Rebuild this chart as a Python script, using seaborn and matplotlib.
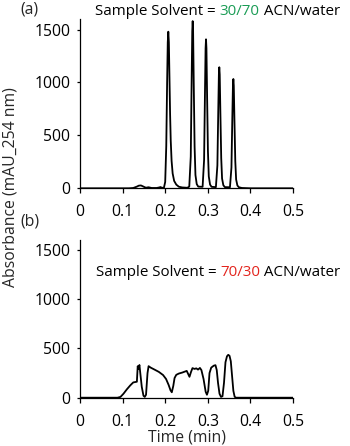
import matplotlib
matplotlib.use("Agg")
import matplotlib.pyplot as plt
import seaborn as sns
import pandas as pd

# ---- data ----
time_a = [0.000, 0.115, 0.125, 0.133, 0.138, 0.143, 0.148, 0.153, 0.157, 0.160, 0.163, 0.168,
          0.180, 0.186, 0.189, 0.192, 0.197,
          0.2000, 0.2025, 0.2045, 0.2060, 0.2073, 0.2086, 0.2100, 0.2115, 0.2130, 0.2150, 0.2175,
          0.2210, 0.2260, 0.2320, 0.2400, 0.2520,
          0.2565, 0.2600, 0.2620, 0.2635, 0.2645, 0.2655, 0.2670, 0.2690, 0.2710, 0.2740, 0.2775,
          0.2878, 0.2913, 0.2933, 0.2948, 0.2958, 0.2968, 0.2983, 0.3003, 0.3023, 0.3053, 0.3088,
          0.3190, 0.3225, 0.3245, 0.3260, 0.3270, 0.3280, 0.3295, 0.3315, 0.3335, 0.3365, 0.3400,
          0.3520, 0.3555, 0.3575, 0.3590, 0.3600, 0.3610, 0.3625, 0.3645, 0.3665, 0.3695, 0.3730,
          0.3800, 0.4000, 0.5000]
abs_a = [0, 0, 3, 15, 25, 27, 18, 8, 6, 10, 8, 3,
         3, 8, 12, 5, 5,
         60, 400, 1000, 1380, 1480, 1380, 1050, 700, 450, 260, 140,
         70, 35, 15, 8, 5,
         16, 300, 995, 1485, 1580, 1485, 995, 395, 126, 40, 16,
         14, 268, 887, 1324, 1408, 1324, 887, 352, 113, 35, 14,
         11, 217, 721, 1075, 1144, 1075, 721, 286, 92, 29, 11,
         10, 196, 651, 971, 1033, 971, 651, 258, 83, 26, 10,
         3, 0, 0]

time_b = [0.000, 0.088, 0.095, 0.102, 0.110, 0.118, 0.125, 0.1335, 0.1355, 0.137, 0.1395, 0.1415,
          0.145, 0.149, 0.152, 0.155, 0.1585, 0.161, 0.166, 0.175, 0.185, 0.195, 0.202, 0.208,
          0.2125, 0.2155, 0.219, 0.222, 0.226, 0.232, 0.240, 0.2505, 0.2545, 0.257, 0.2605, 0.264,
          0.269, 0.273, 0.277, 0.2815, 0.285, 0.290, 0.295, 0.298, 0.301, 0.304, 0.308, 0.314,
          0.318, 0.321, 0.324, 0.3275, 0.331, 0.3345, 0.338, 0.3415, 0.345, 0.348, 0.351, 0.354,
          0.357, 0.360, 0.363, 0.366, 0.500]
abs_b = [0, 0, 8, 40, 85, 125, 155, 162, 320, 290, 332, 250,
         110, 20, 8, 30, 250, 320, 305, 285, 262, 230, 190, 130,
         75, 55, 120, 200, 232, 245, 255, 272, 235, 212, 260, 300,
         292, 298, 285, 302, 280, 190, 60, 30, 70, 250, 305, 325,
         330, 280, 150, 40, 8, 15, 150, 360, 420, 435, 425, 370,
         220, 70, 10, 0, 0]

x_ticks = [0, 0.1, 0.2, 0.3, 0.4, 0.5]
x_ticklabels = ["0", "0.1", "0.2", "0.3", "0.4", "0.5"]
y_ticks = [0, 500, 1000, 1500]
titles = [("Sample Solvent = ", "30/70", " ACN/water", "#1a9c55"),
          ("Sample Solvent = ", "70/30", " ACN/water", "#e3241d")]
panel_labels = ["(a)", "(b)"]

sns.set_style("white")
plt.rcParams["font.family"] = ["Open Sans", "DejaVu Sans"]
FS = 11.3
FS_T = 10.9

fig = plt.figure(figsize=(3.5, 4.46), dpi=100)
W, H = 350, 446
ax_a = fig.add_axes([80 / W, 1 - 188.3 / H, 213 / W, 169.3 / H])
ax_b = fig.add_axes([80 / W, 1 - 397.7 / H, 213 / W, 157.7 / H])

df_a = pd.DataFrame({"t": time_a, "v": abs_a})
df_b = pd.DataFrame({"t": time_b, "v": abs_b})

for ax, df in [(ax_a, df_a), (ax_b, df_b)]:
    sns.lineplot(data=df, x="t", y="v", ax=ax, color="black", linewidth=1.3,
                 estimator=None, sort=False)
    ax.set_xlim(0, 0.5)
    ax.set_ylim(0, 1600)
    ax.set_xticks(x_ticks)
    ax.set_xticklabels(x_ticklabels)
    ax.set_yticks(y_ticks)
    ax.set_xlabel("")
    ax.set_ylabel("")
    for s in ["top", "right"]:
        ax.spines[s].set_visible(False)
    for s in ["left", "bottom"]:
        ax.spines[s].set_color("black")
        ax.spines[s].set_linewidth(0.9)
    ax.tick_params(axis="x", direction="out", length=3.5, width=0.9, pad=8,
                   labelsize=FS, colors="black", bottom=True)
    ax.tick_params(axis="y", direction="out", length=2, width=0.9, pad=5,
                   labelsize=FS, colors="black", left=True)
    ax.set_facecolor("none")

ax_b.set_xlabel("Time (min)", fontsize=FS, labelpad=0)

fig.text(0.03, 1 - 187 / H, "Absorbance (mAU_254 nm)", rotation=90,
         ha="center", va="center", fontsize=FS)

fig.text(20 / W, 1 - 10 / H, panel_labels[0], ha="left", va="center", fontsize=FS)
fig.text(20 / W, 1 - 221 / H, panel_labels[1], ha="left", va="center", fontsize=FS)

renderer = fig.canvas.get_renderer()


def colored_title(x, y, parts):
    t0, t1, t2, col = parts
    cx = x
    for s, c in [(t0, "black"), (t1, col), (t2, "black")]:
        t = fig.text(cx, y, s, ha="left", va="baseline", fontsize=FS_T, color=c)
        w = t.get_window_extent(renderer).width
        cx += w / W


colored_title(95 / W, 1 - 15 / H, titles[0])
colored_title(96 / W, 1 - 276 / H, titles[1])

fig.savefig("out.png", dpi=100)
